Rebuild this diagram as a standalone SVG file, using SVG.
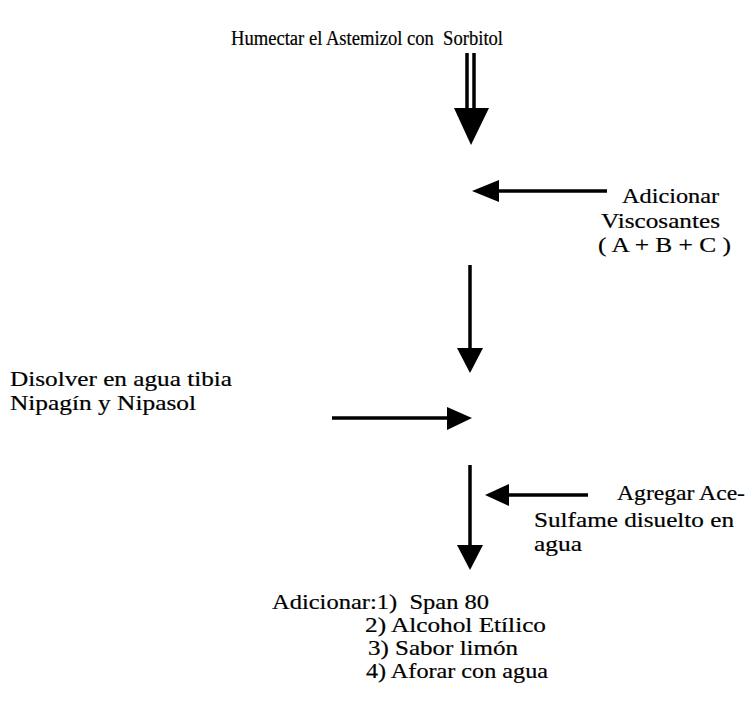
<svg xmlns="http://www.w3.org/2000/svg" width="756" height="709" viewBox="0 0 756 709">
<style>
text{font-family:"Liberation Serif","Times New Roman",serif;font-size:21px;fill:#000;stroke:#000;stroke-width:0.2}
.t{font-size:20px}
.ln{stroke:#000;stroke-width:3.5;fill:none}
.hd{fill:#000}
</style>
<rect width="756" height="709" fill="#fff"/>
<g id="title"><text class="t" x="231" y="45" textLength="272" lengthAdjust="spacingAndGlyphs" xml:space="preserve">Humectar el Astemizol con  Sorbitol</text></g>
<g id="viscosantes">
<text x="622" y="203" textLength="97" lengthAdjust="spacingAndGlyphs">Adicionar</text>
<text x="601" y="228" textLength="119" lengthAdjust="spacingAndGlyphs">Viscosantes</text>
<text x="598" y="252" textLength="133" lengthAdjust="spacingAndGlyphs" xml:space="preserve">( A + B + C )</text></g>
<g id="disolver">
<text x="10" y="386" textLength="222" lengthAdjust="spacingAndGlyphs">Disolver en agua tibia</text>
<text x="10" y="410" textLength="186" lengthAdjust="spacingAndGlyphs">Nipagín y Nipasol</text></g>
<g id="acesulfame">
<text x="617" y="500" textLength="128" lengthAdjust="spacingAndGlyphs">Agregar Ace-</text>
<text x="534" y="527" textLength="200" lengthAdjust="spacingAndGlyphs">Sulfame disuelto en</text>
<text x="534" y="551" textLength="48" lengthAdjust="spacingAndGlyphs">agua</text></g>
<g id="adicionar">
<text x="272" y="609" textLength="217" lengthAdjust="spacingAndGlyphs" xml:space="preserve">Adicionar:1)  Span 80</text>
<text x="365" y="632" textLength="181" lengthAdjust="spacingAndGlyphs">2) Alcohol Etílico</text>
<text x="368" y="655" textLength="150" lengthAdjust="spacingAndGlyphs">3) Sabor limón</text>
<text x="366" y="678" textLength="182" lengthAdjust="spacingAndGlyphs">4) Aforar con agua</text></g>
<g id="connectors">
<line class="ln" x1="467" y1="53" x2="467" y2="110" stroke-width="2"/>
<line class="ln" x1="474" y1="53" x2="474" y2="110" stroke-width="2"/>
<polygon class="hd" points="454,108 489,108 471,145"/>
<line class="ln" x1="496" y1="191" x2="607" y2="191"/>
<polygon class="hd" points="472,191 499,180 499,202"/>
<line class="ln" x1="470" y1="265" x2="470" y2="352"/>
<polygon class="hd" points="457,348 483,348 470,373"/>
<line class="ln" x1="332" y1="418" x2="450" y2="418"/>
<polygon class="hd" points="447,407 472,418 447,430"/>
<line class="ln" x1="470" y1="465" x2="470" y2="550"/>
<polygon class="hd" points="457,545 483,545 470,570"/>
<line class="ln" x1="506" y1="495" x2="588" y2="495"/>
<polygon class="hd" points="485,495 509,484 509,506"/>
</g>
</svg>
